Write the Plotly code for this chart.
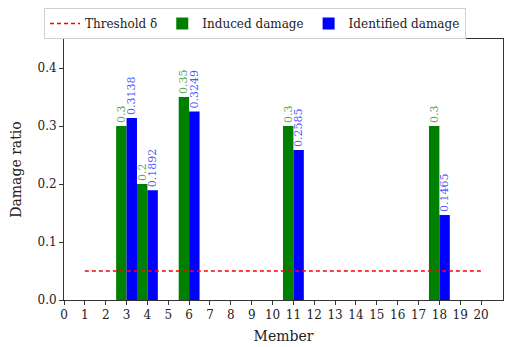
import plotly.graph_objects as go

members = [3, 4, 6, 11, 18]
induced = [0.3, 0.2, 0.35, 0.3, 0.3]
identified = [0.3138, 0.1892, 0.3249, 0.2585, 0.1465]
induced_labels = ["0.3", "0.2", "0.35", "0.3", "0.3"]
identified_labels = ["0.3138", "0.1892", "0.3249", "0.2585", "0.1465"]
threshold_x = [1, 20]
threshold_y = [0.05, 0.05]
x_ticks = list(range(0, 21))
y_ticks = [0.0, 0.1, 0.2, 0.3, 0.4]

FONT = "DejaVu Serif"

fig = go.Figure()
fig.add_trace(go.Scatter(
    x=threshold_x, y=threshold_y, mode="lines",
    line=dict(color="red", dash="4px,3px", width=1.4),
    name="Threshold δ",
))
fig.add_trace(go.Bar(
    x=members, y=induced, width=0.5, offset=-0.5,
    marker=dict(color="green", line=dict(width=0)),
    name="Induced damage",
    text=induced_labels, textposition="outside", textangle=-90,
    outsidetextfont=dict(color="rgba(0,128,0,0.7)", size=11, family=FONT),
    constraintext="none", cliponaxis=False,
))
fig.add_trace(go.Bar(
    x=members, y=identified, width=0.5, offset=0,
    marker=dict(color="blue", line=dict(width=0)),
    name="Identified damage",
    text=identified_labels, textposition="outside", textangle=-90,
    outsidetextfont=dict(color="rgba(0,0,255,0.7)", size=11, family=FONT),
    constraintext="none", cliponaxis=False,
))

fig.update_layout(
    width=516, height=347,
    margin=dict(l=56, r=21, t=31, b=55, autoexpand=False),
    plot_bgcolor="white", paper_bgcolor="white",
    font=dict(family=FONT, size=12, color="#222"),
    barmode="overlay",
    showlegend=True,
    legend=dict(
        orientation="h", xref="container", x=36/516, xanchor="left",
        yref="container", y=1.0, yanchor="top",
        bordercolor="#d0d0d0", borderwidth=1, bgcolor="rgba(255,255,255,0)",
        font=dict(size=12, family=FONT), traceorder="normal",
    ),
    xaxis=dict(
        range=[0, 21.05], tickmode="array", tickvals=x_ticks,
        ticks="outside", ticklen=4, tickcolor="#333", automargin=False,
        showline=True, linecolor="#333", mirror=True, showgrid=False,
        zeroline=False, title=dict(text="Member", standoff=9),
    ),
    yaxis=dict(
        range=[0, 0.45], tickmode="array", tickvals=y_ticks, tickformat=".1f",
        ticks="outside", ticklen=4, tickcolor="#333", automargin=False,
        showline=True, linecolor="#333", mirror=True, showgrid=False,
        zeroline=False, title=dict(text="Damage ratio", standoff=12),
    ),
)

fig.write_html("out.html")
